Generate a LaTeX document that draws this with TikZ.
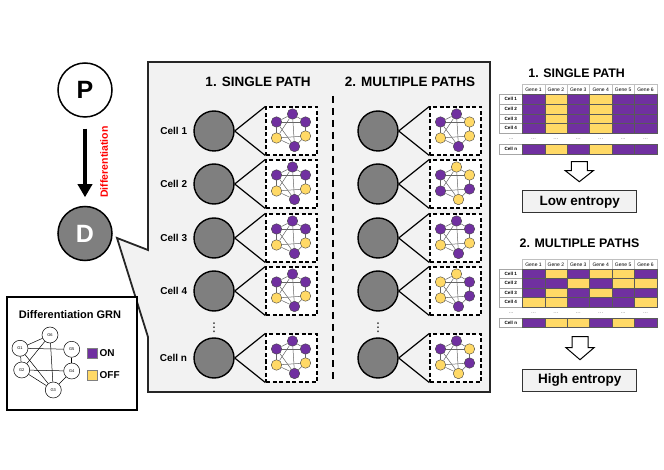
\documentclass[tikz,border=0pt]{standalone}
\usepackage{fontspec}
\setmainfont{Liberation Sans}
\newfontfamily\symfont{DejaVu Sans}
\usetikzlibrary{positioning,arrows.meta}
\definecolor{onclr}{HTML}{7030A0}
\definecolor{offclr}{HTML}{FFD966}
\definecolor{cellfill}{HTML}{7F7F7F}
\definecolor{panelfill}{HTML}{F2F2F2}
\definecolor{panelline}{HTML}{262626}
\tikzset{
  stemcell/.style={circle,draw,line width=1.5pt,minimum size=54pt,inner sep=0pt,font=\bfseries\fontsize{25}{25}\selectfont},
  cellcircle/.style={circle,draw,line width=1.4pt,fill=cellfill,minimum size=40pt,inner sep=0pt},
  celllabel/.style={font=\bfseries\fontsize{10}{12}\selectfont,inner sep=0pt},
  grnbox/.style={draw,line width=1.2pt,dash pattern=on 4pt off 2.5pt,fill=white,minimum width=51pt,minimum height=48pt,inner sep=0pt},
  gene/.style={circle,draw=black!75,line width=0.4pt,minimum size=10.5pt,inner sep=0pt},
  grnedge/.style={draw=black!60,line width=0.5pt},
  zoomline/.style={line width=1.2pt},
  moredots/.style={font=\symfont\fontsize{12}{12}\selectfont,inner sep=0pt},
  pathtitle/.style={font=\bfseries\fontsize{13.5}{16}\selectfont},
  tabtitle/.style={font=\bfseries\fontsize{12.4}{15}\selectfont},
  tabcell/.style={draw=black!65,line width=0.4pt,minimum width=22.4pt,minimum height=9.7pt,inner sep=0pt},
  rowlabel/.style={draw=black!35,fill=white,line width=0.4pt,minimum width=23pt,minimum height=9.7pt,inner sep=0pt,font=\bfseries\fontsize{4.6}{5}\selectfont},
  genehead/.style={draw=black!25,line width=0.3pt,minimum width=22.4pt,minimum height=9.7pt,inner sep=0pt,font=\fontsize{5}{6}\selectfont},
  tabdots/.style={text=black!50,font=\fontsize{6}{6}\selectfont,inner sep=0pt},
  entropybox/.style={draw=black!80,line width=1pt,fill=panelfill,minimum width=114pt,minimum height=22pt,inner sep=0pt,font=\bfseries\fontsize{13.5}{16}\selectfont},
  hollowarrow/.style={draw,line width=1pt,fill=white,line join=miter},
  legendgene/.style={circle,draw,line width=0.5pt,fill=white,minimum size=16pt,inner sep=0pt,font=\fontsize{4}{4}\selectfont},
  swatch/.style={draw=black!50,line width=0.4pt,minimum size=10pt,inner sep=0pt}
}

% six-gene network in a dashed box: name, centre, colours of G1..G6
\newcommand{\minigrn}[8]{%
  \node[grnbox] (#1) at (#2) {};
  \begin{scope}[shift={(#1.center)}]
    \node[gene,fill=#3] (#1g1) at (-15,-9) {};
    \node[gene,fill=#4] (#1g2) at (-15,7) {};
    \node[gene,fill=#5] (#1g3) at (3,15.5) {};
    \node[gene,fill=#6] (#1g4) at (14,5) {};
    \node[gene,fill=#7] (#1g5) at (14,-9) {};
    \node[gene,fill=#8] (#1g6) at (1,-17) {};
  \end{scope}
  \foreach \a/\b in {1/6,1/5,1/2,1/3,6/2,6/3,6/5,5/4,2/4,2/3,4/3}
    \draw[grnedge] (#1g\a) -- (#1g\b);
}

\begin{document}
\begin{tikzpicture}[x=1pt,y=-1pt]
\useasboundingbox (0,0) rectangle (664,470);

% Progenitor and differentiated cell
\node[stemcell,fill=white] (P) at (85,90) {P};
\node[stemcell,fill=cellfill,text=white] (D) at (85,233.5) {D};
\draw[-{Triangle[width=14pt,length=13pt]},line width=4pt,shorten <=11pt,shorten >=8.5pt] (P) -- (D);
\node[rotate=90,text=red,font=\bfseries\fontsize{10.5}{12}\selectfont,inner sep=0pt] (difflabel) at (104,162) {Differentiation};

% Callout panel out of D
\draw[line width=1.8pt,draw=panelline,fill=panelfill] (148,62) -- (490,62) -- (490,392) -- (148,392)
  -- (148,337) -- (117,238) -- (148,250) -- cycle;

\node[pathtitle] (singletitle) at (258,81.5) {1. SINGLE PATH};
\node[pathtitle] (multititle) at (410,81.5) {2. MULTIPLE PATHS};
\draw[line width=2pt,dash pattern=on 7pt off 5pt] (333,96) -- (333,380);

% Single path: every cell with the same pattern
\foreach \r/\ry in {1/131,2/184,3/238,4/291,n/358}{
  \node[cellcircle] (sc\r) at (214,\ry) {};
  \node[celllabel,left=6pt of sc\r] (lab\r) {Cell \r};
  \minigrn{sb\r}{291.5,\ry}{onclr}{offclr}{onclr}{offclr}{onclr}{onclr}
  \draw[zoomline] (sc\r.east) -- (sb\r.north west) (sc\r.east) -- (sb\r.south west);
}

% Multiple paths: patterns differ from cell to cell
\foreach \r/\ry/\ca/\cb/\cc/\cd/\ce/\cf in {
  1/131/onclr/offclr/onclr/offclr/offclr/onclr,
  2/184/onclr/onclr/offclr/onclr/offclr/offclr,
  3/238/onclr/offclr/onclr/offclr/onclr/onclr,
  4/291/offclr/offclr/onclr/onclr/onclr/offclr,
  n/358/onclr/offclr/offclr/onclr/offclr/onclr}{
  \node[cellcircle] (mc\r) at (378,\ry) {};
  \minigrn{mb\r}{455.5,\ry}{\ca}{\cb}{\cc}{\cd}{\ce}{\cf}
  \draw[zoomline] (mc\r.east) -- (mb\r.north west) (mc\r.east) -- (mb\r.south west);
}
\node[moredots] (vdots1) at (214,328) {⋮};
\node[moredots] (vdots2) at (378,328) {⋮};

% Expression table, single path
\node[tabtitle] (t1title) at (576.7,73) {1. SINGLE PATH};
\foreach \k in {1,...,6}
  \node[genehead] (t1h\k) at ({511.1+22.4*\k},89.3) {Gene \k};
\foreach \r/\ry in {1/99.2,2/108.9,3/118.6,4/128.3,n/149.3}{
  \node[rowlabel] (t1r\r) at (510.8,\ry) {Cell \r};
  \foreach \c [count=\k] in {onclr,offclr,onclr,offclr,onclr,onclr}
    \node[tabcell,fill=\c] (t1r\r c\k) at ({511.1+22.4*\k},\ry) {};
}
\foreach \k in {0,...,6}
  \node[tabdots] (t1d\k) at ({511.1+22.4*\k},139.3) {...};
\coordinate (t1tail) at (579.3,161.7);
\draw[hollowarrow] (t1tail) ++(-8,0) -- ++(16,0) -- ++(0,9) -- ++(6,0) -- ++(-14,11) -- ++(-14,-11) -- ++(6,0) -- cycle;
\node[entropybox] (lowbox) at (579.7,202) {Low entropy};

% Expression table, multiple paths
\node[tabtitle] (t2title) at (579.5,243) {2. MULTIPLE PATHS};
\foreach \k in {1,...,6}
  \node[genehead] (t2h\k) at ({511.1+22.4*\k},264.3) {Gene \k};
\foreach \r/\ry/\cols in {
  1/273.8/{onclr,offclr,onclr,offclr,offclr,onclr},
  2/283.3/{onclr,onclr,offclr,onclr,offclr,offclr},
  3/292.8/{onclr,offclr,onclr,offclr,onclr,onclr},
  4/302.3/{offclr,offclr,onclr,onclr,onclr,offclr},
  n/322.7/{onclr,offclr,offclr,onclr,offclr,onclr}}{
  \node[rowlabel] (t2r\r) at (510.8,\ry) {Cell \r};
  \foreach \c [count=\k] in \cols
    \node[tabcell,fill=\c] (t2r\r c\k) at ({511.1+22.4*\k},\ry) {};
}
\foreach \k in {0,...,6}
  \node[tabdots] (t2d\k) at ({511.1+22.4*\k},313) {...};
\coordinate (t2tail) at (580,336.7);
\draw[hollowarrow] (t2tail) ++(-8,0) -- ++(16,0) -- ++(0,11) -- ++(6,0) -- ++(-14,12) -- ++(-14,-12) -- ++(6,0) -- cycle;
\node[entropybox] (highbox) at (579.7,380.5) {High entropy};

% Legend: the differentiation network
\node[draw,line width=1.2pt,fill=white,minimum width=130pt,minimum height=113pt,inner sep=0pt] (legend) at (72,353.5) {};
\node[font=\bfseries\fontsize{11}{13}\selectfont] (legtitle) at (70,315) {Differentiation GRN};
\node[legendgene] (G1) at (20,348.3) {G1};
\node[legendgene] (G2) at (21.7,370) {G2};
\node[legendgene] (G3) at (53.3,390) {G3};
\node[legendgene] (G4) at (71.7,371) {G4};
\node[legendgene] (G5) at (71.7,349.3) {G5};
\node[legendgene] (G6) at (50,335) {G6};
\foreach \a/\b in {G1/G6,G1/G5,G1/G2,G1/G3,G6/G2,G6/G3,G5/G4,G2/G4,G2/G3,G4/G3}
  \draw[line width=0.5pt] (\a) -- (\b);
\node[swatch,fill=onclr] (onkey) at (92.3,353.3) {};
\node[font=\bfseries\fontsize{10}{12}\selectfont,inner sep=0pt,right=2pt of onkey] (ontext) {ON};
\node[swatch,fill=offclr] (offkey) at (92.3,375) {};
\node[font=\bfseries\fontsize{10}{12}\selectfont,inner sep=0pt,right=2pt of offkey] (offtext) {OFF};

\end{tikzpicture}
\end{document}
